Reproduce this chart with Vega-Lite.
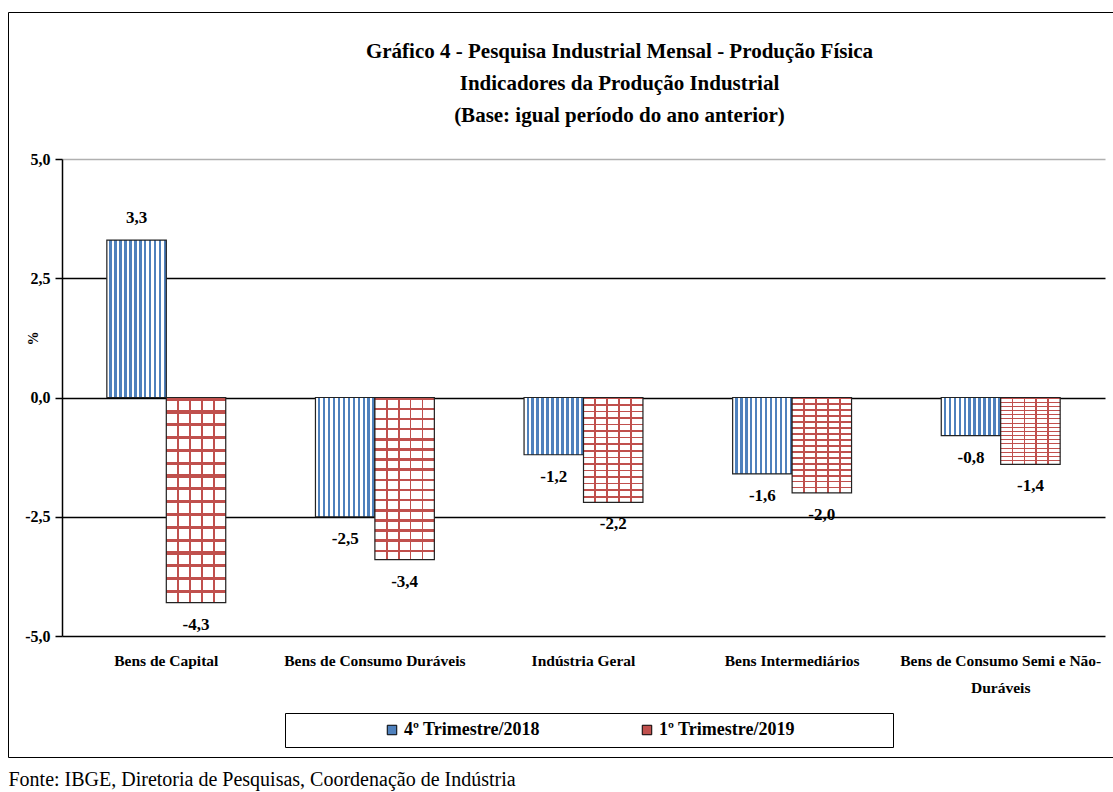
{
  "$schema": "https://vega.github.io/schema/vega-lite/v6.json",
  "autosize": {"type": "none"},
  "width": 1043,
  "height": 477,
  "padding": {"left": 62, "top": 159, "right": 8, "bottom": 156},
  "background": "white",
  "title": {
    "text": ["Gráfico 4 - Pesquisa Industrial Mensal - Produção Física", "Indicadores da Produção Industrial", "(Base: igual período do ano anterior)"],
    "font": "Liberation Serif",
    "fontSize": 21,
    "fontWeight": "bold",
    "color": "black",
    "lineHeight": 32,
    "anchor": "middle",
    "baseline": "bottom",
    "frame": "group",
    "dx": 36,
    "offset": -135
  },
  "data": {
    "values": [
      {"cat": "Bens de Capital", "series": "4º Trimestre/2018", "v": 3.3},
      {"cat": "Bens de Capital", "series": "1º Trimestre/2019", "v": -4.3},
      {"cat": "Bens de Consumo Duráveis", "series": "4º Trimestre/2018", "v": -2.5},
      {"cat": "Bens de Consumo Duráveis", "series": "1º Trimestre/2019", "v": -3.4},
      {"cat": "Indústria Geral", "series": "4º Trimestre/2018", "v": -1.2},
      {"cat": "Indústria Geral", "series": "1º Trimestre/2019", "v": -2.2},
      {"cat": "Bens Intermediários", "series": "4º Trimestre/2018", "v": -1.6},
      {"cat": "Bens Intermediários", "series": "1º Trimestre/2019", "v": -2.0},
      {"cat": "Bens de Consumo Semi e Não-Duráveis", "series": "4º Trimestre/2018", "v": -0.8},
      {"cat": "Bens de Consumo Semi e Não-Duráveis", "series": "1º Trimestre/2019", "v": -1.4}
    ]
  },
  "encoding": {
    "x": {
      "field": "cat", "type": "nominal", "sort": null,
      "scale": {"paddingInner": 0.43, "paddingOuter": 0.215},
      "axis": {
        "title": "Fonte: IBGE, Diretoria de Pesquisas, Coordenação de Indústria",
        "titleX": -54, "titleY": 149, "titleAlign": "left", "titleBaseline": "alphabetic",
        "titleFont": "Liberation Serif", "titleFontSize": 20, "titleFontWeight": "normal", "titleColor": "black",
        "domain": false, "ticks": false, "grid": false,
        "labelAngle": 0, "labelPadding": 17, "labelLimit": 0, "labelOverlap": false, "labelBound": false,
        "labelFont": "Liberation Serif", "labelFontSize": 15.5, "labelFontWeight": "bold", "labelColor": "black",
        "labelLineHeight": 27,
        "labelExpr": "datum.label == 'Bens de Consumo Semi e Não-Duráveis' ? ['Bens de Consumo Semi e Não-', 'Duráveis'] : datum.label"
      }
    },
    "xOffset": {
      "field": "series", "type": "nominal",
      "scale": {"domain": ["4º Trimestre/2018", "1º Trimestre/2019"], "paddingInner": 0, "paddingOuter": 0}
    },
    "y": {
      "field": "v", "type": "quantitative",
      "scale": {"domain": [-5, 5], "nice": false, "zero": false},
      "axis": {
        "title": "%", "titleX": -22, "titleY": 179, "titleFont": "Liberation Serif", "titleFontSize": 14, "titleFontWeight": "bold", "titleColor": "black",
        "values": [-5, -2.5, 0, 2.5, 5], "format": ".1f",
        "labelFont": "Liberation Serif", "labelFontSize": 16, "labelFontWeight": "bold", "labelColor": "black", "labelPadding": 5,
        "domainColor": "black", "domainWidth": 1.5, "tickColor": "black", "tickSize": 7, "tickWidth": 1.5,
        "grid": true, "gridWidth": 1.5,
        "gridColor": {"condition": {"test": "datum.value == 5", "value": "#b0b0b0"}, "value": "black"}
      }
    }
  },
  "layer": [
    {
      "mark": {"type": "bar"},
      "encoding": {
        "fill": {
          "field": "series", "type": "nominal",
          "scale": {"domain": ["4º Trimestre/2018", "1º Trimestre/2019"], "range": ["#4f81bd", "#c0504d"]},
          "legend": {
            "orient": "none", "legendX": 223, "legendY": 554, "direction": "horizontal", "title": null,
            "strokeColor": "black", "fillColor": "white", "padding": 8,
            "symbolOffset": 90, "symbolType": "square", "symbolSize": 90, "symbolStrokeColor": "black", "symbolStrokeWidth": 1,
            "labelFont": "Liberation Serif", "labelFontSize": 18, "labelFontWeight": "bold", "labelColor": "black", "labelOffset": 3,
            "columnPadding": 8, "labelLimit": 0,
            "labelExpr": "datum.label == '1º Trimestre/2019' ? datum.label + '\u00a0\u00a0\u00a0\u00a0\u00a0\u00a0\u00a0\u00a0\u00a0\u00a0\u00a0\u00a0\u00a0\u00a0\u00a0\u00a0\u00a0\u00a0\u00a0\u00a0\u200b' : datum.label"
          }
        }
      }
    },
    {
      "transform": [{"filter": "datum.series == '4º Trimestre/2018'"}],
      "mark": {
        "type": "bar", "stroke": "#222222", "strokeWidth": 1.2,
        "fill": {
          "gradient": "linear", "x1": 0, "x2": 1, "y1": 0, "y2": 0,
          "stops": [
            {"offset": 0, "color": "white"}, {"offset": 0.0417, "color": "white"}, {"offset": 0.0417, "color": "#4f81bd"}, {"offset": 0.0833, "color": "#4f81bd"},
            {"offset": 0.0833, "color": "white"}, {"offset": 0.125, "color": "white"}, {"offset": 0.125, "color": "#4f81bd"}, {"offset": 0.1667, "color": "#4f81bd"},
            {"offset": 0.1667, "color": "white"}, {"offset": 0.2083, "color": "white"}, {"offset": 0.2083, "color": "#4f81bd"}, {"offset": 0.25, "color": "#4f81bd"},
            {"offset": 0.25, "color": "white"}, {"offset": 0.2917, "color": "white"}, {"offset": 0.2917, "color": "#4f81bd"}, {"offset": 0.3333, "color": "#4f81bd"},
            {"offset": 0.3333, "color": "white"}, {"offset": 0.375, "color": "white"}, {"offset": 0.375, "color": "#4f81bd"}, {"offset": 0.4167, "color": "#4f81bd"},
            {"offset": 0.4167, "color": "white"}, {"offset": 0.4583, "color": "white"}, {"offset": 0.4583, "color": "#4f81bd"}, {"offset": 0.5, "color": "#4f81bd"},
            {"offset": 0.5, "color": "white"}, {"offset": 0.5417, "color": "white"}, {"offset": 0.5417, "color": "#4f81bd"}, {"offset": 0.5833, "color": "#4f81bd"},
            {"offset": 0.5833, "color": "white"}, {"offset": 0.625, "color": "white"}, {"offset": 0.625, "color": "#4f81bd"}, {"offset": 0.6667, "color": "#4f81bd"},
            {"offset": 0.6667, "color": "white"}, {"offset": 0.7083, "color": "white"}, {"offset": 0.7083, "color": "#4f81bd"}, {"offset": 0.75, "color": "#4f81bd"},
            {"offset": 0.75, "color": "white"}, {"offset": 0.7917, "color": "white"}, {"offset": 0.7917, "color": "#4f81bd"}, {"offset": 0.8333, "color": "#4f81bd"},
            {"offset": 0.8333, "color": "white"}, {"offset": 0.875, "color": "white"}, {"offset": 0.875, "color": "#4f81bd"}, {"offset": 0.9167, "color": "#4f81bd"},
            {"offset": 0.9167, "color": "white"}, {"offset": 0.9583, "color": "white"}, {"offset": 0.9583, "color": "#4f81bd"}, {"offset": 1, "color": "#4f81bd"}
          ]
        }
      }
    },
    {
      "transform": [{"filter": "datum.series == '1º Trimestre/2019'"}],
      "mark": {
        "type": "bar",
        "fill": {
          "gradient": "linear", "x1": 0, "x2": 0, "y1": 0, "y2": 1,
          "stops": [
            {"offset": 0, "color": "#c0504d"}, {"offset": 0.0156, "color": "#c0504d"}, {"offset": 0.0156, "color": "white"}, {"offset": 0.0625, "color": "white"},
            {"offset": 0.0625, "color": "#c0504d"}, {"offset": 0.0781, "color": "#c0504d"}, {"offset": 0.0781, "color": "white"}, {"offset": 0.125, "color": "white"},
            {"offset": 0.125, "color": "#c0504d"}, {"offset": 0.1406, "color": "#c0504d"}, {"offset": 0.1406, "color": "white"}, {"offset": 0.1875, "color": "white"},
            {"offset": 0.1875, "color": "#c0504d"}, {"offset": 0.2031, "color": "#c0504d"}, {"offset": 0.2031, "color": "white"}, {"offset": 0.25, "color": "white"},
            {"offset": 0.25, "color": "#c0504d"}, {"offset": 0.2656, "color": "#c0504d"}, {"offset": 0.2656, "color": "white"}, {"offset": 0.3125, "color": "white"},
            {"offset": 0.3125, "color": "#c0504d"}, {"offset": 0.3281, "color": "#c0504d"}, {"offset": 0.3281, "color": "white"}, {"offset": 0.375, "color": "white"},
            {"offset": 0.375, "color": "#c0504d"}, {"offset": 0.3906, "color": "#c0504d"}, {"offset": 0.3906, "color": "white"}, {"offset": 0.4375, "color": "white"},
            {"offset": 0.4375, "color": "#c0504d"}, {"offset": 0.4531, "color": "#c0504d"}, {"offset": 0.4531, "color": "white"}, {"offset": 0.5, "color": "white"},
            {"offset": 0.5, "color": "#c0504d"}, {"offset": 0.5156, "color": "#c0504d"}, {"offset": 0.5156, "color": "white"}, {"offset": 0.5625, "color": "white"},
            {"offset": 0.5625, "color": "#c0504d"}, {"offset": 0.5781, "color": "#c0504d"}, {"offset": 0.5781, "color": "white"}, {"offset": 0.625, "color": "white"},
            {"offset": 0.625, "color": "#c0504d"}, {"offset": 0.6406, "color": "#c0504d"}, {"offset": 0.6406, "color": "white"}, {"offset": 0.6875, "color": "white"},
            {"offset": 0.6875, "color": "#c0504d"}, {"offset": 0.7031, "color": "#c0504d"}, {"offset": 0.7031, "color": "white"}, {"offset": 0.75, "color": "white"},
            {"offset": 0.75, "color": "#c0504d"}, {"offset": 0.7656, "color": "#c0504d"}, {"offset": 0.7656, "color": "white"}, {"offset": 0.8125, "color": "white"},
            {"offset": 0.8125, "color": "#c0504d"}, {"offset": 0.8281, "color": "#c0504d"}, {"offset": 0.8281, "color": "white"}, {"offset": 0.875, "color": "white"},
            {"offset": 0.875, "color": "#c0504d"}, {"offset": 0.8906, "color": "#c0504d"}, {"offset": 0.8906, "color": "white"}, {"offset": 0.9375, "color": "white"},
            {"offset": 0.9375, "color": "#c0504d"}, {"offset": 0.9531, "color": "#c0504d"}, {"offset": 0.9531, "color": "white"}, {"offset": 1, "color": "white"}
          ]
        }
      }
    },
    {
      "transform": [{"filter": "datum.series == '1º Trimestre/2019'"}],
      "mark": {
        "type": "bar", "stroke": "#222222", "strokeWidth": 1.2,
        "fill": {
          "gradient": "linear", "x1": 0, "x2": 1, "y1": 0, "y2": 0,
          "stops": [
            {"offset": 0, "color": "rgba(192,80,77,0)"}, {"offset": 0.185, "color": "rgba(192,80,77,0)"}, {"offset": 0.185, "color": "#c0504d"}, {"offset": 0.215, "color": "#c0504d"},
            {"offset": 0.215, "color": "rgba(192,80,77,0)"}, {"offset": 0.385, "color": "rgba(192,80,77,0)"}, {"offset": 0.385, "color": "#c0504d"}, {"offset": 0.415, "color": "#c0504d"},
            {"offset": 0.415, "color": "rgba(192,80,77,0)"}, {"offset": 0.585, "color": "rgba(192,80,77,0)"}, {"offset": 0.585, "color": "#c0504d"}, {"offset": 0.615, "color": "#c0504d"},
            {"offset": 0.615, "color": "rgba(192,80,77,0)"}, {"offset": 0.785, "color": "rgba(192,80,77,0)"}, {"offset": 0.785, "color": "#c0504d"}, {"offset": 0.815, "color": "#c0504d"},
            {"offset": 0.815, "color": "rgba(192,80,77,0)"}, {"offset": 1, "color": "rgba(192,80,77,0)"}
          ]
        }
      }
    },
    {
      "transform": [{"filter": "datum.v >= 0"}],
      "mark": {"type": "text", "dy": -22, "baseline": "middle", "font": "Liberation Serif", "fontSize": 17, "fontWeight": "bold", "color": "black"},
      "encoding": {"text": {"field": "v", "type": "quantitative", "format": ".1f"}}
    },
    {
      "transform": [{"filter": "datum.v < 0"}],
      "mark": {"type": "text", "dy": 22, "baseline": "middle", "font": "Liberation Serif", "fontSize": 17, "fontWeight": "bold", "color": "black"},
      "encoding": {"text": {"field": "v", "type": "quantitative", "format": ".1f"}}
    },
    {
      "mark": {"type": "point", "opacity": 0},
      "encoding": {
        "shape": {
          "field": "cat", "type": "nominal",
          "legend": {
            "orient": "none", "legendX": -54, "legendY": -147, "direction": "horizontal", "title": null,
            "strokeColor": "black", "padding": 372, "gridAlign": "none",
            "symbolSize": 0, "symbolOpacity": 0, "symbolStrokeWidth": 0, "labelOffset": 0, "labelFontSize": 1,
            "labelExpr": "''", "columnPadding": 91, "rowPadding": 0
          }
        }
      }
    }
  ],
  "config": {
    "locale": {"number": {"decimal": ",", "thousands": ".", "grouping": [3], "currency": ["R$", ""], "minus": "-"}},
    "view": {"stroke": null}
  }
}
